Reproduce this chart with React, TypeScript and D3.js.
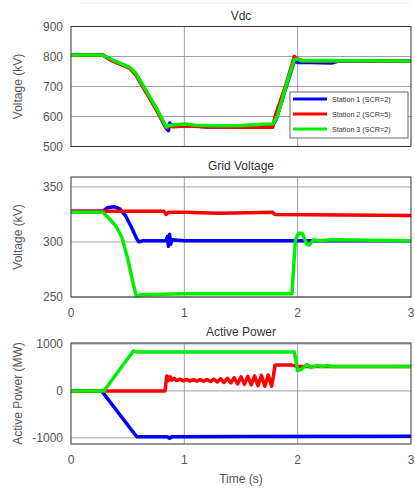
import React from 'react';
import { scaleLinear, line } from 'd3';

// time (s), value pairs
const vdcStation1 = [[0,805],[0.28,805],[0.36,788],[0.45,774],[0.52,762],[0.57,742],[0.66,685],[0.76,620],[0.84,560],[0.86,553],[0.87,578],[0.9,568],[1.0,572],[1.2,565],[1.5,566],[1.78,570],[1.81,590],[1.9,700],[1.97,785],[2.0,780],[2.1,780],[2.3,778],[2.35,784],[3.0,784]];
const vdcStation2 = [[0,805],[0.28,805],[0.36,786],[0.45,772],[0.52,760],[0.57,740],[0.66,682],[0.76,618],[0.84,562],[0.87,568],[0.9,566],[1.0,568],[1.2,566],[1.5,564],[1.78,564],[1.8,600],[1.9,710],[1.97,800],[2.0,792],[2.05,785],[3.0,785]];
const vdcStation3 = [[0,805],[0.28,805],[0.36,790],[0.45,775],[0.52,763],[0.57,745],[0.66,688],[0.76,624],[0.84,565],[0.86,570],[0.9,572],[1.0,575],[1.1,571],[1.3,569],[1.5,570],[1.7,574],[1.78,575],[1.82,600],[1.9,705],[1.97,790],[2.0,792],[2.03,786],[2.2,787],[3.0,785]];

const gridStation1 = [[0,328],[0.28,328],[0.32,331],[0.38,332],[0.43,330],[0.48,324],[0.53,314],[0.58,303],[0.6,300],[0.63,301],[0.84,301],[0.85,305],[0.86,296],[0.87,307],[0.88,298],[0.89,302],[1.0,301],[2.0,301],[3.0,301]];
const gridStation2 = [[0,328],[0.82,328],[0.84,325],[0.86,327],[1.0,327],[1.3,326],[1.78,327],[1.8,325],[3.0,324]];
const gridStation3 = [[0,327],[0.28,327],[0.33,322],[0.4,314],[0.45,304],[0.5,285],[0.54,266],[0.57,253],[0.58,251],[0.62,252],[1.0,253],[1.5,253],[1.95,253],[1.96,270],[1.98,302],[2.01,308],[2.04,308],[2.08,298],[2.1,297],[2.14,302],[2.2,301],[2.3,302],[3.0,301]];

const powerStation1 = [[0,0],[0.27,0],[0.58,-975],[0.85,-975],[0.87,-1010],[0.89,-975],[1.5,-970],[3.0,-965]];
const powerStation2 = [[0,0],[0.83,0],[0.845,320],[0.86,220],[0.875,300],[0.89,230],[0.91,270],[0.93,220],[0.96,250],[0.99,215],[1.02,245],[1.05,210],[1.08,240],[1.11,210],[1.14,240],[1.17,205],[1.2,240],[1.23,200],[1.26,250],[1.29,190],[1.32,260],[1.35,180],[1.38,270],[1.41,170],[1.44,280],[1.47,150],[1.5,300],[1.53,140],[1.56,310],[1.59,130],[1.62,320],[1.65,110],[1.68,330],[1.71,100],[1.74,340],[1.77,100],[1.785,300],[1.8,550],[1.95,550],[2.0,520],[3.0,520]];
const powerStation3 = [[0,0],[0.29,0],[0.55,850],[0.58,830],[1.97,830],[2.0,430],[2.04,470],[2.08,560],[2.12,500],[2.17,540],[2.22,520],[2.26,540],[2.3,520],[3.0,520]];

const xTicks = [0, 1, 2, 3];
const vdcTicks = [500, 600, 700, 800, 900];
const gridTicks = [250, 300, 350];
const powerTicks = [-1000, 0, 1000];

const seriesColors = ['#0000ff', '#ff0000', '#00ee00'];
const legendLabels = ['Station 1 (SCR=2)', 'Station 2 (SCR=5)', 'Station 3 (SCR=2)'];

const left = 71, right = 411;
const x = scaleLinear().domain([0, 3]).range([left, right]);

const panels = [
  { title: 'Vdc', ylabel: 'Voltage (kV)', top: 26.5, bottom: 146.5, domain: [500, 900], ticks: vdcTicks, data: [vdcStation1, vdcStation2, vdcStation3], xLabels: false },
  { title: 'Grid Voltage', ylabel: 'Voltage (kV)', top: 177, bottom: 297, domain: [250, 359], ticks: gridTicks, data: [gridStation1, gridStation2, gridStation3], xLabels: true },
  { title: 'Active Power', ylabel: 'Active Power (MW)', top: 343, bottom: 444, domain: [-1130, 1020], ticks: powerTicks, data: [powerStation1, powerStation2, powerStation3], xLabels: true },
];

const font = '"Liberation Sans", Arial, sans-serif';

const Panel = ({ p }) => {
  const y = scaleLinear().domain(p.domain).range([p.bottom, p.top]);
  const path = line().x(d => x(d[0])).y(d => y(d[1]));
  const midY = (p.top + p.bottom) / 2;
  const clipId = 'clip' + p.title.replace(/\s/g, '');
  return (
    <g>
      <rect x={left} y={p.top} width={right - left} height={p.bottom - p.top} fill="#fff" />
      {xTicks.slice(1, -1).map(t => (
        <line key={'gx' + t} x1={x(t)} x2={x(t)} y1={p.top} y2={p.bottom} stroke="#888" strokeWidth={0.8} />
      ))}
      {p.ticks.map(t => (
        <line key={'gy' + t} x1={left} x2={right} y1={y(t)} y2={y(t)} stroke="#888" strokeWidth={0.8} />
      ))}
      <defs>
        <clipPath id={clipId}>
          <rect x={left} y={p.top - 2} width={right - left} height={p.bottom - p.top + 4} />
        </clipPath>
      </defs>
      <g clipPath={`url(#${clipId})`}>
        {p.data.map((d, i) => (
          <path key={i} d={path(d)} fill="none" stroke={seriesColors[i]} strokeWidth={3.5} strokeLinejoin="round" />
        ))}
      </g>
      <rect x={left} y={p.top} width={right - left} height={p.bottom - p.top} fill="none" stroke="#333" strokeWidth={1} />
      {p.ticks.map(t => (
        <text key={'ty' + t} x={left - 8} y={y(t)} dy="0.35em" textAnchor="end" fontSize={12} fill="#555" fontFamily={font}>{t}</text>
      ))}
      {p.xLabels && xTicks.map(t => (
        <text key={'tx' + t} x={x(t)} y={p.bottom + 20} textAnchor="middle" fontSize={12} fill="#555" fontFamily={font}>{t}</text>
      ))}
      <text x={(left + right) / 2} y={p.top - 7} textAnchor="middle" fontSize={12} fill="#333" fontFamily={font}>{p.title}</text>
      <text transform={`translate(22,${midY}) rotate(-90)`} textAnchor="middle" fontSize={12} fill="#555" fontFamily={font}>{p.ylabel}</text>
    </g>
  );
};

const Legend = () => (
  <g>
    <rect x={290} y={92} width={118} height={46} fill="#fff" stroke="#666" strokeWidth={1} />
    {legendLabels.map((l, i) => (
      <g key={l}>
        <line x1={293} x2={327} y1={99 + i * 15} y2={99 + i * 15} stroke={seriesColors[i]} strokeWidth={3} />
        <text x={332} y={99 + i * 15} dy="0.35em" fontSize={7.2} fill="#333" fontFamily={font}>{l}</text>
      </g>
    ))}
  </g>
);

export default function App() {
  return (
    <svg width={415} height={488} style={{ position: 'absolute', left: 0, top: 0, background: '#fff' }}>
      <line x1={80} x2={410} y1={3} y2={3} stroke="#eee" strokeWidth={1} />
      {panels.map(p => <Panel key={p.title} p={p} />)}
      <Legend />
      <text x={(left + right) / 2} y={483} textAnchor="middle" fontSize={12} fill="#555" fontFamily={font}>Time (s)</text>
    </svg>
  );
}
